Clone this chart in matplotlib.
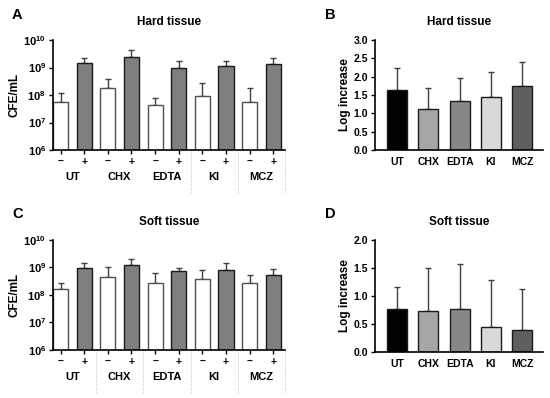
import numpy as np
import matplotlib
matplotlib.use("Agg")
import matplotlib.pyplot as plt
from matplotlib.transforms import blended_transform_factory

plt.rcParams['font.family'] = ['Liberation Sans', 'DejaVu Sans']
plt.rcParams['font.weight'] = 'bold'
plt.rcParams['mathtext.fontset'] = 'custom'
plt.rcParams['mathtext.rm'] = 'Liberation Sans:bold'
plt.rcParams['mathtext.bf'] = 'Liberation Sans:bold'

# данные
groups = ['UT', 'CHX', 'EDTA', 'KI', 'MCZ']

hard_minus = [5.4e7, 1.85e8, 4.5e7, 9.0e7, 5.4e7]
hard_minus_err = [1.2e8, 3.7e8, 7.8e7, 2.65e8, 1.8e8]
hard_plus = [1.5e9, 2.4e9, 9.6e8, 1.1e9, 1.3e9]
hard_plus_err = [2.15e9, 4.2e9, 1.8e9, 1.7e9, 2.3e9]

soft_minus = [1.65e8, 4.4e8, 2.7e8, 3.9e8, 2.65e8]
soft_minus_err = [2.65e8, 1.07e9, 6.1e8, 8.3e8, 5.5e8]
soft_plus = [9.3e8, 1.23e9, 7.5e8, 8.3e8, 5.4e8]
soft_plus_err = [1.45e9, 2.1e9, 9.8e8, 1.5e9, 8.6e8]

hard_log = [1.64, 1.13, 1.35, 1.44, 1.74]
hard_log_err = [2.24, 1.69, 1.96, 2.14, 2.41]
soft_log = [0.77, 0.72, 0.77, 0.45, 0.39]
soft_log_err = [1.16, 1.50, 1.57, 1.28, 1.13]

group_colors = ['#000000', '#a6a6a6', '#878787', '#d9d9d9', '#5f5f5f']


def style_axes(ax):
    for s in ['top', 'right']:
        ax.spines[s].set_visible(False)
    for s in ['left', 'bottom']:
        ax.spines[s].set_linewidth(1.2)
    ax.tick_params(axis='both', width=1.0, length=3, labelsize=7.5, pad=2)


def cfe_panel(ax, minus, minus_top, plus, plus_top, title, seps):
    minus = np.array(minus)
    plus = np.array(plus)
    vals = np.ravel(np.column_stack([minus, plus]))
    tops = np.ravel(np.column_stack([minus_top, plus_top]))
    x = np.arange(len(vals))
    colors = ['white', '#7f7f7f'] * len(groups)
    edges = ['#505050', '#1a1a1a'] * len(groups)
    ax.bar(x, vals, width=0.64, color=colors, edgecolor=edges, linewidth=1.0, zorder=2)
    ax.errorbar(x, vals, yerr=[np.zeros_like(vals), tops - vals], fmt='none',
                ecolor='#404040', elinewidth=1.0, capsize=2.5, capthick=1.0, zorder=1)
    ax.set_yscale('log')
    ax.set_ylim(1e6, 1e10)
    ax.set_xlim(-0.32, 9.5)
    ax.set_yticks([1e6, 1e7, 1e8, 1e9, 1e10])
    ax.set_yticklabels([r'$10^{6}$', r'$10^{7}$', r'$10^{8}$', r'$10^{9}$', r'$10^{10}$'])
    ax.yaxis.set_minor_locator(matplotlib.ticker.NullLocator())
    ax.set_xticks(x)
    ax.set_xticklabels(['–', '+'] * len(groups), fontsize=8.5)
    style_axes(ax)
    ax.tick_params(axis='y', labelsize=8)
    ax.set_ylabel('CFE/mL', fontsize=8.5, fontweight='bold', labelpad=2)
    ax.set_title(title, fontsize=8.5, fontweight='bold', pad=10.5)
    tr = blended_transform_factory(ax.transData, ax.transAxes)
    for i, g in enumerate(groups):
        ax.text(2 * i + 0.5, -0.245, g, transform=tr, ha='center', va='center',
                fontsize=8, fontweight='bold')
    for s in seps:
        ax.plot([s, s], [0, -0.39], transform=tr, color='#c0c0c0', lw=0.7,
                ls=':', clip_on=False)


def log_panel(ax, vals, tops, title, ymax):
    vals = np.array(vals)
    x = np.arange(len(vals))
    ax.bar(x, vals, width=0.64, color=group_colors, edgecolor='#1a1a1a', linewidth=1.0, zorder=2)
    ax.errorbar(x, vals, yerr=[np.zeros_like(vals), np.array(tops) - vals], fmt='none',
                ecolor='#404040', elinewidth=1.0, capsize=2.5, capthick=1.0, zorder=1)
    ax.set_ylim(0, ymax)
    ax.set_xlim(-0.7, 4.67)
    ax.set_xticks(x)
    ax.set_xticklabels(groups, fontsize=8)
    style_axes(ax)
    ax.tick_params(axis='x', length=0, pad=5)
    ax.set_ylabel('Log increase', fontsize=8.5, fontweight='bold', labelpad=2)
    ax.set_title(title, fontsize=8.5, fontweight='bold', pad=10.5)


fig = plt.figure(figsize=(5.5, 3.98), dpi=100)

axA = fig.add_axes([0.0964, 0.623, 0.422, 0.2764])
axB = fig.add_axes([0.682, 0.623, 0.3055, 0.2764])
axC = fig.add_axes([0.0964, 0.1206, 0.422, 0.2764])
axD = fig.add_axes([0.682, 0.1164, 0.3055, 0.2806])

cfe_panel(axA, hard_minus, hard_minus_err, hard_plus, hard_plus_err, 'Hard tissue', [5.5, 7.5, 9.5])
cfe_panel(axC, soft_minus, soft_minus_err, soft_plus, soft_plus_err, 'Soft tissue', [1.5, 3.5, 5.5, 7.5, 9.5])
log_panel(axB, hard_log, hard_log_err, 'Hard tissue', 3.0)
axB.set_yticks(np.arange(0, 3.01, 0.5))
axB.set_yticklabels(['%.1f' % v for v in np.arange(0, 3.01, 0.5)])
log_panel(axD, soft_log, soft_log_err, 'Soft tissue', 2.0)
axD.set_yticks(np.arange(0, 2.01, 0.5))
axD.set_yticklabels(['%.1f' % v for v in np.arange(0, 2.01, 0.5)])

for letter, xx, yy in [('A', 0.022, 0.962), ('B', 0.59, 0.962), ('C', 0.022, 0.462), ('D', 0.59, 0.462)]:
    fig.text(xx, yy, letter, fontsize=10.5, fontweight='bold', ha='left', va='center')

fig.savefig('out.png', dpi=100)
